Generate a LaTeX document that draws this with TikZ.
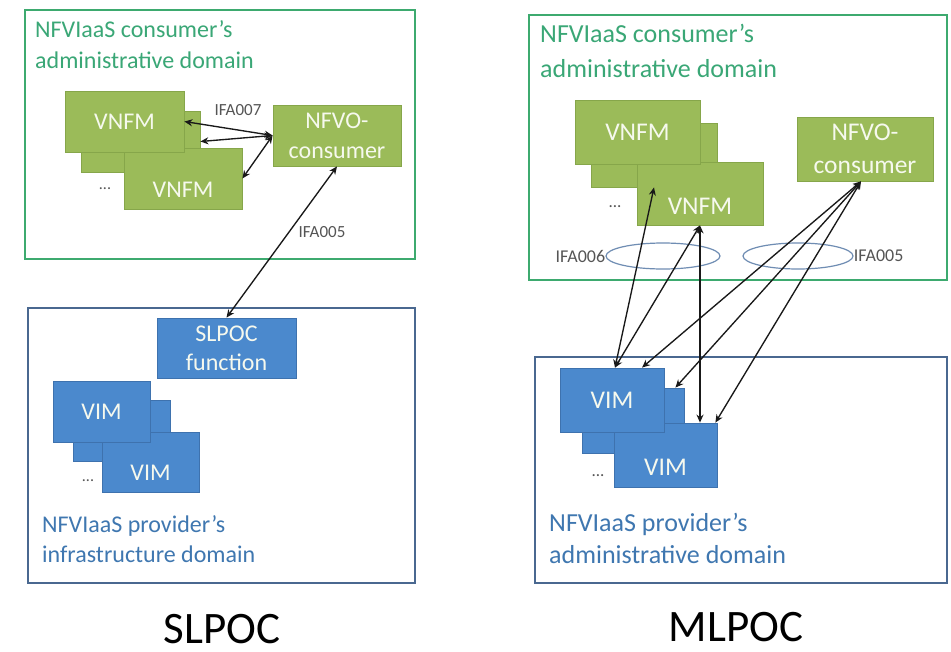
\documentclass[tikz,border=0pt]{standalone}
\usepackage{fontspec}
\setmainfont{Carlito}
\usetikzlibrary{calc,arrows.meta,shapes.geometric}
\definecolor{dgreen}{HTML}{3DAA6F}
\definecolor{gtext}{HTML}{3AA776}
\definecolor{gfill}{HTML}{9BBB59}
\definecolor{gedge}{HTML}{86A64A}
\definecolor{bfill}{HTML}{4B89CD}
\definecolor{bedge}{HTML}{3E72AE}
\definecolor{dblue}{HTML}{4A6890}
\definecolor{btext}{HTML}{3F77B0}
\definecolor{lbl}{HTML}{555555}
\definecolor{ell}{HTML}{6F8DB3}
\definecolor{boxtxt}{HTML}{F6F9EE}
\begin{document}
\begin{tikzpicture}[x=1pt,y=-1pt,
  gdom/.style={draw=dgreen, line width=2.5pt, inner sep=0pt},
  bdom/.style={draw=dblue, line width=2pt, inner sep=0pt},
  gbox/.style={draw=gedge, fill=gfill, line width=0.8pt, inner sep=0pt, text=boxtxt, align=center},
  bbox/.style={draw=bedge, fill=bfill, line width=0.8pt, inner sep=0pt, text=boxtxt, align=center},
  fl/.style={font=\fontsize{24}{30}\selectfont},
  fr/.style={font=\fontsize{25.5}{33}\selectfont},
  ttl/.style={anchor=base west, inner sep=0pt},
  small/.style={text=lbl, inner sep=0pt},
  arr/.style={draw=black!90, line width=1.35pt, {Stealth[length=8pt,width=7pt]}-{Stealth[length=8pt,width=7pt]}},
  ringe/.style={ellipse, draw=ell, line width=1.2pt, inner sep=0pt}
]
\useasboundingbox (0,0) rectangle (951,651);
\fill[white] (0,0) rectangle (951,651);

% ---------------- SLPOC (left) ----------------
\node[gdom, minimum width=390pt, minimum height=249pt] (dom1) at (220,134.5) {};
\node[ttl, text=gtext, font=\fontsize{24}{30}\selectfont] (t1a) at (35,37) {NFVIaaS consumer’s};
\node[ttl, text=gtext, font=\fontsize{24}{30}\selectfont] (t1b) at (35,68) {administrative domain};

\node[gbox, minimum width=119pt, minimum height=61pt] (vnfmM) at (140.5,141.5) {};
\node[gbox, minimum width=118pt, minimum height=61pt,
  label={[text=boxtxt, font=\fontsize{24}{30}\selectfont, yshift=-11pt]center:VNFM}] (vnfmB) at (183,178.5) {};
\node[gbox, fl, minimum width=119pt, minimum height=61pt] (vnfmA) at (124.5,121.5) {VNFM};
\node[small, font=\fontsize{16}{18}\selectfont] (dots1) at (105,189) {...};
\node[gbox, fl, minimum width=128pt, minimum height=61pt] (nfvo1) at (337,135.5) {NFVO-\\consumer};
\node[small, font=\fontsize{17}{20}\selectfont] (ifa7) at (238,110) {IFA007};
\node[small, font=\fontsize{17}{20}\selectfont] (ifa5l) at (322,232) {IFA005};

\node[bdom, minimum width=387pt, minimum height=275pt] (dom2) at (221.5,445.5) {};
\node[bbox, font=\fontsize{24}{29}\selectfont, minimum width=139pt, minimum height=60pt] (slpoc) at (226.5,348) {SLPOC\\function};
\node[bbox, minimum width=97pt, minimum height=61pt] (vimM) at (121.5,430.5) {};
\node[bbox, minimum width=97pt, minimum height=60pt,
  label={[text=boxtxt, font=\fontsize{24}{30}\selectfont, yshift=-11pt]center:VIM}] (vimB) at (150.5,462) {};
\node[bbox, fl, minimum width=97pt, minimum height=61pt] (vimA) at (101.5,411.5) {VIM};
\node[small, font=\fontsize{16}{18}\selectfont] (dots2) at (88,481) {...};
\node[ttl, text=btext, font=\fontsize{24}{30}\selectfont] (t2a) at (42,532) {NFVIaaS provider’s};
\node[ttl, text=btext, font=\fontsize{24}{30}\selectfont] (t2b) at (42,562) {infrastructure domain};

\draw[arr] (nfvo1.west) -- (vnfmA.east);
\draw[arr] (nfvo1.west) -- (vnfmM.east);
\draw[arr] (nfvo1.west) -- (vnfmB.east);
\draw[arr] (nfvo1.south) -- (slpoc.north);

\node[font=\fontsize{45}{50}\selectfont, anchor=base, inner sep=0pt] (slpocl) at (222,643) {SLPOC};

% ---------------- MLPOC (right) ----------------
\node[gdom, minimum width=418pt, minimum height=265pt] (dom3) at (738,147.5) {};
\node[ttl, text=gtext, font=\fontsize{26}{33}\selectfont] (t3a) at (540,42) {NFVIaaS consumer’s};
\node[ttl, text=gtext, font=\fontsize{26}{33}\selectfont] (t3b) at (540,77) {administrative domain};

\node[gbox, minimum width=126pt, minimum height=64pt] (vnfmN) at (654,155) {};
\node[gbox, minimum width=126pt, minimum height=63pt,
  label={[text=boxtxt, font=\fontsize{25.5}{33}\selectfont, yshift=-13pt]center:VNFM}] (vnfmD) at (700,193.5) {};
\node[gbox, fr, minimum width=125pt, minimum height=64pt] (vnfmC) at (637.5,132) {VNFM};
\node[small, font=\fontsize{17}{18}\selectfont] (dots3) at (615,207) {...};
\node[gbox, fr, minimum width=136pt, minimum height=64pt] (nfvo2) at (865,149) {NFVO-\\consumer};

\node[ringe, minimum width=114pt, minimum height=26pt] (ell1) at (663,256) {};
\node[ringe, minimum width=110pt, minimum height=26pt] (ell2) at (798,256) {};
\node[small, font=\fontsize{18}{20}\selectfont, anchor=east] (ifa6) at (ell1.west) {IFA006};
\node[small, font=\fontsize{18}{20}\selectfont, anchor=west] (ifa5r) at (ell2.east) {IFA005};

\node[bdom, minimum width=412pt, minimum height=226pt] (dom4) at (741,470) {};
\node[bbox, minimum width=102pt, minimum height=65pt] (vimN) at (633,420.5) {};
\node[bbox, minimum width=103pt, minimum height=64pt,
  label={[text=boxtxt, font=\fontsize{25.5}{33}\selectfont, yshift=-12pt]center:VIM}] (vimD) at (665.5,455) {};
\node[bbox, fr, minimum width=104pt, minimum height=64pt] (vimC) at (612,400) {VIM};
\node[small, font=\fontsize{17}{18}\selectfont] (dots4) at (598,476) {...};
\node[ttl, text=btext, font=\fontsize{26}{33}\selectfont] (t4a) at (549,531) {NFVIaaS provider’s};
\node[ttl, text=btext, font=\fontsize{26}{33}\selectfont] (t4b) at (549,563) {administrative domain};

\draw[arr] (vnfmN.south) -- ($(vimC.north)+(3,0)$);
\draw[arr] (vnfmD.south) -- ($(vimC.north)+(3,0)$);
\draw[arr] (vnfmD.south) -- (vnfmD.south |- vimD.north);
\draw[arr] ($(nfvo2.south)+(-4,0)$) -- ($(vimC.north)+(30,0)$);
\draw[arr] ($(nfvo2.south)+(-4,0)$) -- ($(vimN.north east)+(-9,0)$);
\draw[arr] ($(nfvo2.south)+(-4,0)$) -- ($(vimD.north east)+(-2,0)$);

\node[font=\fontsize{45}{50}\selectfont, anchor=base, inner sep=0pt] (mlpocl) at (736,641) {MLPOC};
\end{tikzpicture}
\end{document}
